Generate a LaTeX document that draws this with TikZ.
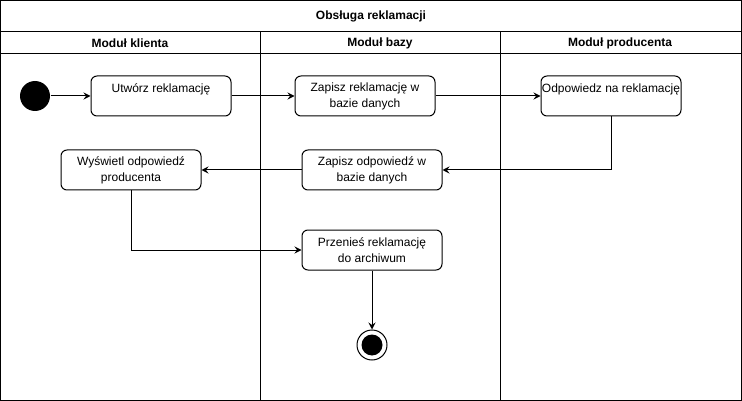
\documentclass[tikz,border=0pt]{standalone}
\usepackage{fontspec}
\setmainfont{Liberation Sans}
\usetikzlibrary{arrows.meta, positioning}

\begin{document}
\begin{tikzpicture}[
  x=1pt, y=-1pt,
  every node/.style={font=\fontsize{12}{16}\selectfont, align=center},
  act/.style={draw, rounded corners=6pt, minimum width=140pt, minimum height=40pt, inner sep=0pt},
  head/.style={font=\fontsize{12}{16}\selectfont\bfseries},
  flow/.style={->, >={Stealth[length=7pt, width=7pt, inset=2.5pt]}},
  line width=1pt
]
\useasboundingbox (0,0) rectangle (742,401);

% Frame and lanes
\draw (0.5,0.5) rectangle (741.5,400.5);
\draw (0.5,31.5) -- (741.5,31.5);
\draw (0.5,53.5) -- (741.5,53.5);
\draw (260.5,31.5) -- (260.5,400.5);
\draw (500.5,31.5) -- (500.5,400.5);

% Headers
\node[head] (title) at (371,16) {Obsługa reklamacji};
\node[head] (lane_client) at (130,43) {Moduł klienta};
\node[head] (lane_db) at (380,43) {Moduł bazy};
\node[head] (lane_prod) at (620,43) {Moduł producenta};

% Nodes
\node[circle, fill, minimum size=30pt, inner sep=0pt] (start) at (35,96) {};
\node[act] (create) at (161,96) {Utwórz reklamację\\\mbox{}};
\node[act] (store) at (365,96) {Zapisz reklamację w\\ bazie danych};
\node[act] (answer) at (611,96) {Odpowiedz na reklamację\\\mbox{}};
\node[act] (show) at (131,170) {Wyświetl odpowiedź\\ producenta};
\node[act] (save_answer) at (372,170) {Zapisz odpowiedź w\\ bazie danych};
\node[act] (archive) at (372,250) {Przenieś reklamację\\ do archiwum};
\node[circle, draw, minimum size=30pt, inner sep=0pt] (end) at (372,345) {};
\node[circle, fill, minimum size=21pt, inner sep=0pt] (end_dot) at (end) {};

% Flows
\draw[flow] (start) -- (create);
\draw[flow] (create) -- (store);
\draw[flow] (store) -- (answer);
\draw[flow] (answer.south) |- (save_answer.east);
\draw[flow] (save_answer) -- (show);
\draw[flow] (show.south) |- (archive.west);
\draw[flow] (archive) -- (end);

\end{tikzpicture}
\end{document}
